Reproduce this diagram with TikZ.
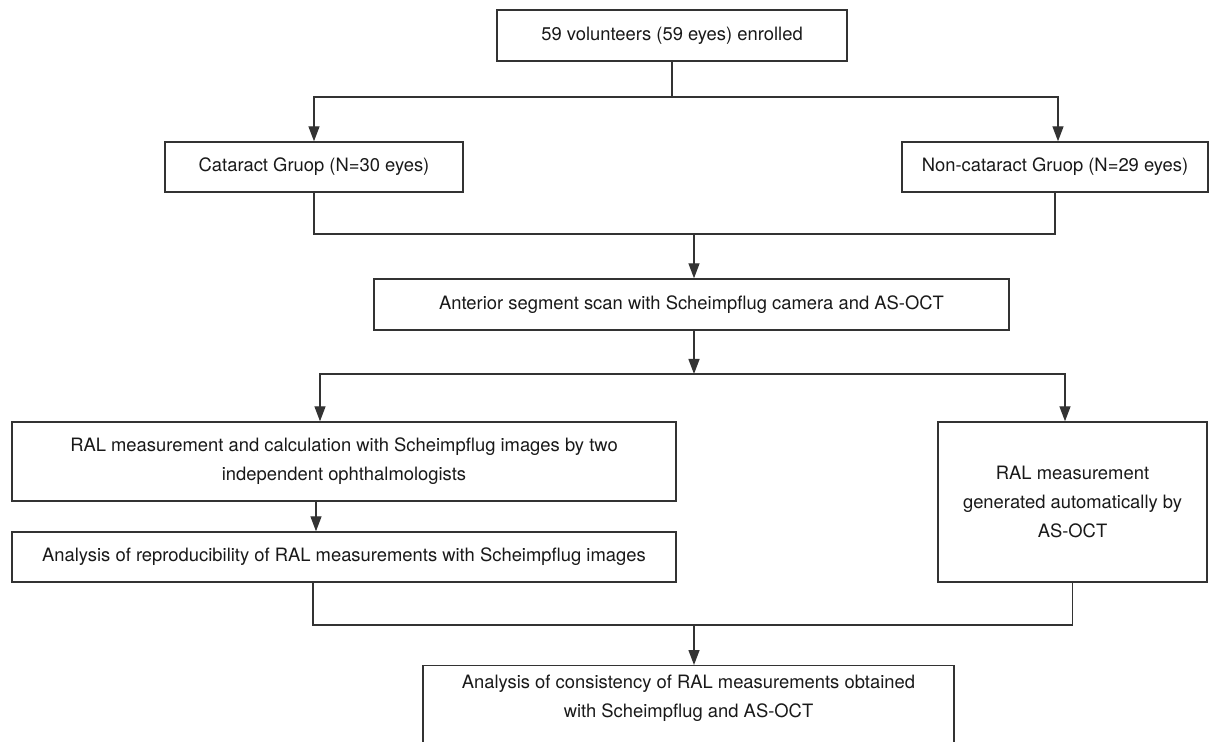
\documentclass[tikz,border=0pt]{standalone}
\usepackage{fontspec}
\setmainfont{TeX Gyre Heros}
\usetikzlibrary{arrows.meta}
\tikzset{
  flowbox/.style={draw=black!80,line width=0.7pt,rectangle,align=center,inner sep=2pt,
    text=black!90,font=\fontsize{9.2}{14.5}\selectfont},
  flowline/.style={draw=black!80,line width=0.7pt},
  arr/.style={flowline,-{Triangle[width=5.5pt,length=7.5pt]}}
}
\begin{document}
\begin{tikzpicture}[x=0.5pt,y=-0.5pt,line cap=butt,line join=miter]
	\path[use as bounding box,clip] (0,0) rectangle (1210,742);
	% boxes
	\node[flowbox,minimum width=175pt,minimum height=25.5pt] (enroll) at (672,35.5) {59 volunteers (59 eyes) enrolled};
	\node[flowbox,minimum width=149pt,minimum height=25pt] (cat) at (314,167) {Cataract Gruop (N=30 eyes)};
	\node[flowbox,minimum width=153pt,minimum height=25pt] (noncat) at (1055,167) {Non-cataract Gruop (N=29 eyes)};
	\node[flowbox,minimum width=317.5pt,minimum height=25.5pt] (scan) at (691.5,304.5) {Anterior segment scan with Scheimpflug camera and AS-OCT};
	\node[flowbox,minimum width=332pt,minimum height=39.5pt] (ralsch) at (344,461.5) {RAL measurement and calculation with Scheimpflug images by two\\independent ophthalmologists};
	\node[flowbox,minimum width=332pt,minimum height=25pt] (repro) at (344,557) {Analysis of reproducibility of RAL measurements with Scheimpflug images};
	\node[flowbox,minimum width=134.5pt,minimum height=80pt] (ralauto) at (1072.5,502) {RAL measurement\\generated automatically by\\AS-OCT};
	\node[flowbox,minimum width=265.5pt,anchor=north,text height=24pt,text depth=25pt] (consist) at (688.5,665) {Analysis of consistency of RAL measurements obtained\\with Scheimpflug and AS-OCT};
	% connectors
	\coordinate (split1) at (enroll.south |- 0,97);
	\draw[flowline] (enroll.south) -- (split1);
	\draw[arr] (split1) -| (cat.north);
	\draw[arr] (split1) -| ([xshift=1.5pt]noncat.north);
	\coordinate (merge1) at ([xshift=1.25pt]scan.north |- 0,234);
	\draw[flowline] (cat.south) |- (merge1) -| (noncat.south);
	\draw[arr] (merge1) -- ([xshift=1.25pt]scan.north);
	\coordinate (split2) at ([xshift=1.25pt]scan.south |- 0,374);
	\draw[arr] ([xshift=1.25pt]scan.south) -- (split2);
	\draw[flowline] ([xshift=-12pt]ralsch.north |- split2) -- ([xshift=-3.75pt]ralauto.north |- split2);
	\draw[arr] (split2) -| ([xshift=-12pt]ralsch.north);
	\draw[arr] (split2) -| ([xshift=-3.75pt]ralauto.north);
	\draw[arr] ([xshift=-14pt]ralsch.south) -- ([xshift=-14pt]repro.north);
	\coordinate (merge2) at ([xshift=2.75pt]consist.north |- 0,625);
	\draw[flowline] ([xshift=-15.5pt]repro.south) |- (merge2) -| (ralauto.south);
	\draw[arr] (merge2) -- ([xshift=2.75pt]consist.north);
\end{tikzpicture}
\end{document}
